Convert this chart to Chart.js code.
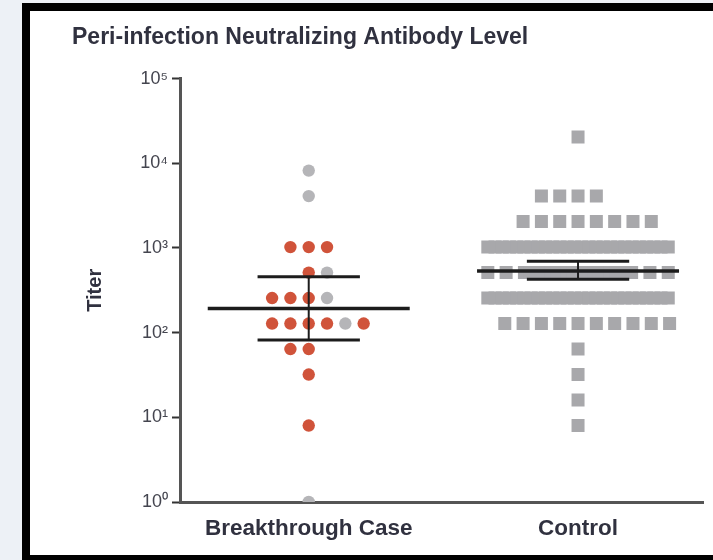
<!DOCTYPE html>
<html>
<head>
<meta charset="utf-8">
<title>Peri-infection Neutralizing Antibody Level</title>
<script src="https://cdn.jsdelivr.net/npm/chart.js@4"></script>
<style>
  html, body { margin: 0; padding: 0; }
  body { width: 713px; height: 560px; background: #edf1f6; overflow: hidden; position: relative; }
  #panel {
    position: absolute; left: 22px; top: 3px; width: 683px; height: 544px; background: #fff;
    border-left: 8px solid #000; border-top: 8px solid #000; border-bottom: 5px solid #000;
  }
  canvas { display: block; }
</style>
</head>
<body>
<div id="panel"><canvas id="titerChart" width="683" height="544"></canvas></div>
<script>
const categories = ['Breakthrough Case', 'Control'];

// breakthrough cases, orange-red dots and grey dots
const caseRedTiters = [1024, 1024, 1024, 512, 256, 256, 256, 128, 128, 128, 128, 128, 64, 64, 32, 8];
const caseGreyTiters = [8192, 4096, 512, 256, 128, 1];

// controls: titer level and how many squares sit on it
const controlTiters = [20480, 4096, 2048, 1024, 512, 256, 128, 64, 32, 16, 8];
const controlCounts = [1, 4, 8, 26, 25, 26, 10, 1, 1, 1, 1];

// geometric mean and 95% CI
const caseGeoMean = 193;
const caseCI = [82, 457];
const controlGeoMean = 534;
const controlCI = [426, 697];

const yTicks = [1, 10, 100, 1000, 10000, 100000];
const yTickLabels = ['10⁰', '10¹', '10²', '10³', '10⁴', '10⁵'];

// ---- swarm layout (x units, one category = 1) ----
const SLOT = 0.068;        // one dot / square width
const ROW_HALF = 0.335;    // centre to outermost square of a full row
const MEAN_HALF = 0.375;
const CAP_HALF = 0.19;

// slot of each breakthrough dot inside its row, 0 = group centre
const caseRedSlots = [-1, 0, 1, 0, -2, -1, 0, -2, -1, 0, 1, 3, -1, 0, 0, 0];
const caseGreySlots = [0, 0, 1, 1, 2, 0];
const controlRowStart = { 4096: -2, 2048: -3, 128: -4 };
const controlLooseEnds = { 512: 2 };

function casePoints(titers, slots) {
  return titers.map((t, i) => ({ x: 1 + slots[i] * SLOT, y: t }));
}

function controlPoints() {
  const pts = [];
  controlTiters.forEach((t, i) => {
    const n = controlCounts[i];
    const offs = [];
    if (n <= 11) {
      const start = controlRowStart[t] ?? -Math.floor((n - 1) / 2);
      for (let k = 0; k < n; k++) offs.push((start + k) * SLOT);
    } else {
      // too many for the row: squeeze them between the outer squares
      const loose = controlLooseEnds[t] || 0;
      for (let k = 0; k < loose; k++) offs.push(-ROW_HALF + k * SLOT, ROW_HALF - k * SLOT);
      const m = n - 2 * loose;
      const a = -ROW_HALF + loose * SLOT;
      for (let k = 0; k < m; k++) offs.push(a - 2 * a * k / (m - 1));
    }
    offs.forEach(o => pts.push({ x: 2 + o, y: t }));
  });
  return pts;
}

function lineSet(data, width) {
  return {
    type: 'line', data: data, borderColor: '#1c1c1c', borderWidth: width,
    pointRadius: 0, spanGaps: false, borderCapStyle: 'butt', order: 0
  };
}

function meanBars(cx, gm, ci) {
  return [
    lineSet([{ x: cx - MEAN_HALF, y: gm }, { x: cx + MEAN_HALF, y: gm }], 3.5),
    lineSet([
      { x: cx - CAP_HALF, y: ci[1] }, { x: cx + CAP_HALF, y: ci[1] }, { x: cx, y: null },
      { x: cx - CAP_HALF, y: ci[0] }, { x: cx + CAP_HALF, y: ci[0] }
    ], 3),
    lineSet([{ x: cx, y: ci[1] }, { x: cx, y: ci[0] }], 2)
  ];
}

const FONT = 'Liberation Sans, Arial, sans-serif';
const TEXT = '#30313f';

new Chart(document.getElementById('titerChart'), {
  type: 'scatter',
  data: {
    datasets: [
      ...meanBars(1, caseGeoMean, caseCI),
      ...meanBars(2, controlGeoMean, controlCI),
      {
        data: casePoints(caseRedTiters, caseRedSlots),
        pointStyle: 'circle', pointRadius: 6.2, pointHoverRadius: 6.2,
        pointBackgroundColor: '#d0533a', pointBorderWidth: 0, order: 1
      },
      {
        data: casePoints(caseGreyTiters, caseGreySlots),
        pointStyle: 'circle', pointRadius: 6.2, pointHoverRadius: 6.2,
        pointBackgroundColor: '#b5b5b8', pointBorderWidth: 0, order: 1
      },
      {
        data: controlPoints(),
        pointStyle: 'rect', pointRadius: 9.2, pointHoverRadius: 9.2,
        pointBackgroundColor: '#a8a8ab', pointBorderWidth: 0, order: 2
      }
    ]
  },
  options: {
    responsive: false,
    animation: false,
    devicePixelRatio: 1,
    layout: { padding: { left: 42, right: 4, top: 0, bottom: 0 } },
    plugins: {
      legend: { display: false },
      tooltip: { enabled: false },
      title: {
        display: true,
        text: 'Peri-infection Neutralizing Antibody Level',
        align: 'start',
        color: TEXT,
        font: { family: FONT, size: 23, weight: 'bold' },
        padding: { top: 13, bottom: 27 }
      }
    },
    scales: {
      x: {
        type: 'linear', min: 0.522, max: 2.467,
        afterBuildTicks: s => { s.ticks = [{ value: 1 }, { value: 2 }]; },
        afterFit: s => { s.height = 53; },
        ticks: {
          callback: (v, i) => categories[i],
          color: TEXT, padding: 5, maxRotation: 0, autoSkip: false,
          font: { family: FONT, size: 22.5, weight: 'bold' }
        },
        grid: { display: false },
        border: { color: '#555', width: 3 }
      },
      y: {
        type: 'logarithmic', min: 1, max: 100000,
        afterBuildTicks: s => { s.ticks = yTicks.map(v => ({ value: v })); },
        afterFit: s => { s.width = 108; },
        ticks: {
          callback: (v, i) => yTickLabels[i],
          color: '#44454f', padding: 4,
          font: { family: FONT, size: 18 }
        },
        grid: { drawOnChartArea: false, tickLength: 8, tickColor: '#333', tickWidth: 2 },
        border: { color: '#555', width: 3 },
        title: {
          display: true, text: 'Titer', color: TEXT,
          font: { family: FONT, size: 20, weight: 'bold' },
          padding: { top: 11, bottom: 0 }
        }
      }
    }
  }
});
</script>
</body>
</html>
